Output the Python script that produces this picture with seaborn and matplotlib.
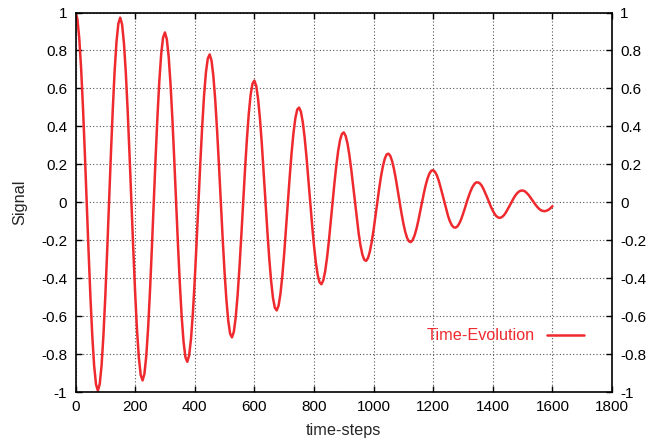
import numpy as np
import pandas as pd
import seaborn as sns
import matplotlib.pyplot as plt

# values, every 6.25 time-steps (0 .. 1600)
time_steps = [6.25 * i for i in range(257)]
signal = [
    1.000, 0.966, 0.866, 0.707, 0.500, 0.259, 0.000, -0.258, -0.498, -0.704, -0.862, -0.960,
    -0.993, -0.958, -0.858, -0.699, -0.494, -0.255, 0.000, 0.255, 0.490, 0.692, 0.846, 0.942,
    0.973, 0.937, 0.838, 0.683, 0.481, 0.249, 0.000, -0.247, -0.476, -0.671, -0.819, -0.911,
    -0.939, -0.904, -0.808, -0.657, -0.463, -0.239, 0.000, 0.237, 0.455, 0.641, 0.782, 0.868,
    0.895, 0.860, 0.768, 0.624, 0.439, 0.226, 0.000, -0.224, -0.430, -0.604, -0.736, -0.817,
    -0.841, -0.807, -0.719, -0.584, -0.410, -0.211, 0.000, 0.209, 0.400, 0.562, 0.684, 0.757,
    0.779, 0.747, 0.665, 0.539, 0.378, 0.195, 0.000, -0.192, -0.367, -0.515, -0.626, -0.693,
    -0.712, -0.682, -0.606, -0.491, -0.344, -0.177, 0.000, 0.174, 0.332, 0.466, 0.566, 0.625,
    0.641, 0.614, 0.545, 0.441, 0.309, 0.158, 0.000, -0.155, -0.297, -0.415, -0.504, -0.556,
    -0.570, -0.545, -0.483, -0.390, -0.273, -0.140, 0.000, 0.137, 0.261, 0.365, 0.442, 0.488,
    0.499, 0.477, 0.422, 0.341, 0.238, 0.122, 0.000, -0.119, -0.227, -0.317, -0.383, -0.422,
    -0.432, -0.412, -0.364, -0.294, -0.205, -0.105, 0.000, 0.102, 0.194, 0.271, 0.328, 0.360,
    0.368, 0.350, 0.310, 0.249, 0.174, 0.089, 0.000, -0.086, -0.164, -0.229, -0.276, -0.303,
    -0.309, -0.294, -0.260, -0.209, -0.146, -0.074, 0.000, 0.072, 0.137, 0.190, 0.229, 0.252,
    0.256, 0.244, 0.215, 0.173, 0.120, 0.061, 0.000, -0.059, -0.112, -0.156, -0.188, -0.206,
    -0.210, -0.199, -0.175, -0.141, -0.098, -0.050, 0.000, 0.048, 0.091, 0.126, 0.152, 0.166,
    0.169, 0.160, 0.141, 0.113, 0.078, 0.040, 0.000, -0.038, -0.073, -0.101, -0.121, -0.132,
    -0.134, -0.127, -0.112, -0.090, -0.062, -0.032, 0.000, 0.030, 0.057, 0.079, 0.095, 0.104,
    0.105, 0.100, 0.088, 0.070, 0.048, 0.025, 0.000, -0.024, -0.044, -0.062, -0.074, -0.081,
    -0.082, -0.077, -0.068, -0.054, -0.037, -0.019, 0.000, 0.018, 0.034, 0.047, 0.056, 0.061,
    0.062, 0.059, 0.051, 0.041, 0.028, 0.014, 0.000, -0.014, -0.026, -0.036, -0.043, -0.046,
    -0.047, -0.044, -0.039, -0.031, -0.021,
]
x_ticks = [0, 200, 400, 600, 800, 1000, 1200, 1400, 1600, 1800]
y_ticks = [-1, -0.8, -0.6, -0.4, -0.2, 0, 0.2, 0.4, 0.6, 0.8, 1]
y_labels = ["-1", "-0.8", "-0.6", "-0.4", "-0.2", "0", "0.2", "0.4", "0.6", "0.8", "1"]

df = pd.DataFrame({"time-steps": time_steps, "Signal": signal})

sns.set_style("ticks")
plt.rcParams['font.family'] = ['Liberation Sans', 'DejaVu Sans']

red = "#ee2a2f"
fig = plt.figure(figsize=(6.46, 4.42), dpi=100)
ax = fig.add_axes([0.1169, 0.1131, 0.8305, 0.8586])

sns.lineplot(data=df, x="time-steps", y="Signal", ax=ax, color=red,
             linewidth=1.8, label="Time-Evolution")

ax.set_xlim(0, 1800)
ax.set_ylim(-1, 1)
ax.set_xticks(x_ticks)
ax.set_yticks(y_ticks)
ax.set_yticklabels(y_labels)
ax.grid(True, color="#555555", linestyle=(0, (1, 2)), linewidth=0.8)
ax.tick_params(direction="in", length=4, width=1, labelsize=11, colors="black",
               top=True, right=True, labelright=True, pad=6)
for s in ax.spines.values():
    s.set_linewidth(1.2)
    s.set_color("black")

ax.set_xlabel("time-steps", fontsize=11.7, labelpad=6)
ax.set_ylabel("Signal", fontsize=11.7, labelpad=10)

leg = ax.legend(loc="center right", bbox_to_anchor=(0.948, 0.148), frameon=False,
                markerfirst=False, labelcolor="linecolor", fontsize=11.7,
                handlelength=2.3, handletextpad=0.75, borderpad=0, borderaxespad=0)

fig.savefig("out.png", dpi=100)
